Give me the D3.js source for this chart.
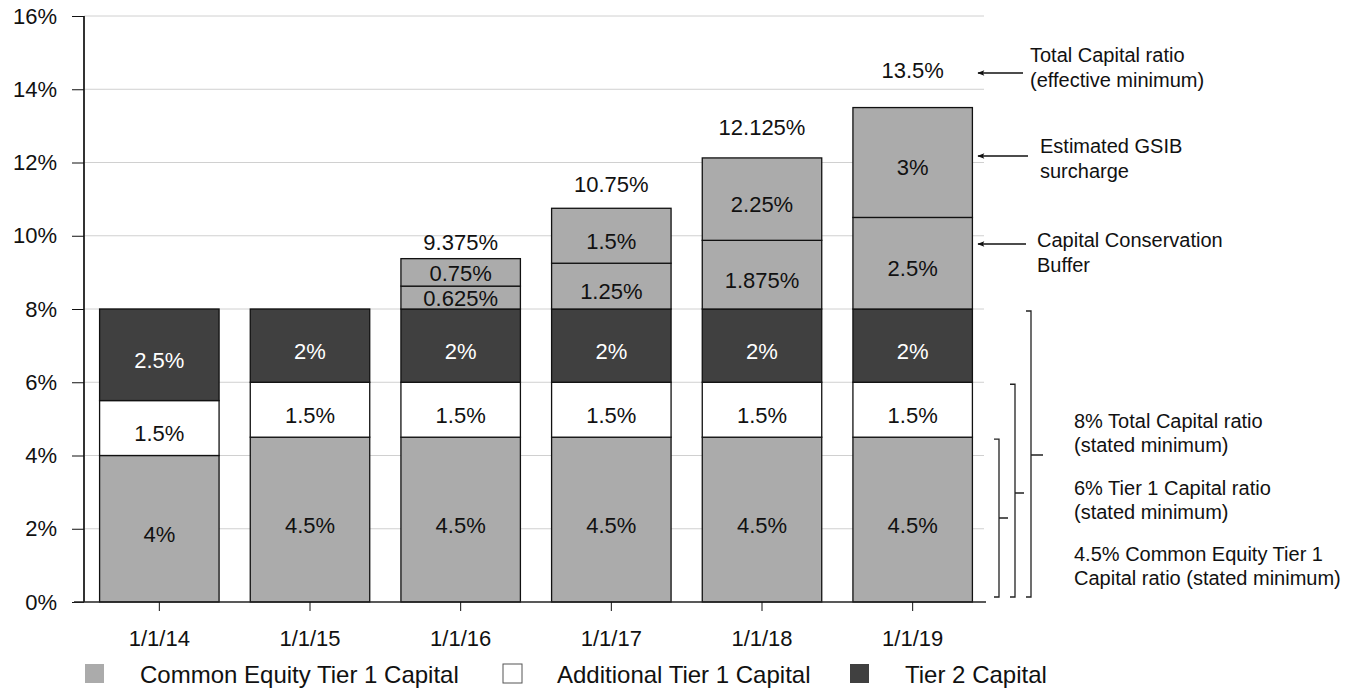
<!DOCTYPE html>
<html>
<head>
<meta charset="utf-8">
<script src="https://cdnjs.cloudflare.com/ajax/libs/d3/7.8.5/d3.min.js"></script>
<style>
  body { margin: 0; background: #fff; }
  svg { font-family: "Liberation Sans", Arial, sans-serif; }
  .grid line { stroke: #d0d0d0; stroke-width: 1; }
</style>
</head>
<body>
<div id="chart"></div>
<script>
// Data
var dates = ["1/1/14", "1/1/15", "1/1/16", "1/1/17", "1/1/18", "1/1/19"];
var cet1 = [4, 4.5, 4.5, 4.5, 4.5, 4.5];
var at1 = [1.5, 1.5, 1.5, 1.5, 1.5, 1.5];
var tier2 = [2.5, 2, 2, 2, 2, 2];
var ccb = [0, 0, 0.625, 1.25, 1.875, 2.5];
var gsib = [0, 0, 0.75, 1.5, 2.25, 3];
var totalLabels = ["", "", "9.375%", "10.75%", "12.125%", "13.5%"];
var yTicks = [0, 2, 4, 6, 8, 10, 12, 14, 16];
var legendNames = ["Common Equity Tier 1 Capital", "Additional Tier 1 Capital", "Tier 2 Capital"];

var width = 1351, height = 693;
var colors = { cet1: "#ababab", at1: "#ffffff", tier2: "#404040", ccb: "#ababab", gsib: "#ababab" };

var svg = d3.select("#chart").append("svg")
    .attr("width", width)
    .attr("height", height);

// Scales
var x = d3.scaleBand().domain(dates).range([84, 988]).paddingInner(0.207).paddingOuter(0.1035);
var y = d3.scaleLinear().domain([0, 16]).range([602, 16]);

// Gridlines
svg.append("g").attr("class", "grid")
    .selectAll("line").data(yTicks.slice(1)).enter()
    .append("line")
    .attr("x1", 84).attr("x2", 984)
    .attr("y1", function(d){ return y(d); })
    .attr("y2", function(d){ return y(d); });

// Stack the series
var keys = ["cet1", "at1", "tier2", "ccb", "gsib"];
var rows = dates.map(function(d, i){
    return { date: d, cet1: cet1[i], at1: at1[i], tier2: tier2[i], ccb: ccb[i], gsib: gsib[i] };
});
var stacked = d3.stack().keys(keys)(rows);

var layers = svg.selectAll("g.layer").data(stacked).enter()
    .append("g").attr("class", "layer");

layers.selectAll("rect").data(function(s){
        return s.map(function(p){ p.key = s.key; return p; }).filter(function(p){ return p[1] - p[0] > 0; });
    }).enter()
    .append("rect")
    .attr("x", function(p){ return x(p.data.date); })
    .attr("width", x.bandwidth())
    .attr("y", function(p){ return y(p[1]); })
    .attr("height", function(p){ return y(p[0]) - y(p[1]); })
    .attr("fill", function(p){ return colors[p.key]; })
    .attr("stroke", "#111")
    .attr("stroke-width", 1.3);

// Segment labels (sit a little below the segment middle)
layers.selectAll("text").data(function(s){
        return s.filter(function(p){ return p[1] - p[0] > 0; });
    }).enter()
    .append("text")
    .attr("x", function(p){ return x(p.data.date) + x.bandwidth() / 2; })
    .attr("y", function(p){
        var h = y(p[0]) - y(p[1]);
        return y((p[0] + p[1]) / 2) + (h > 40 ? 5 : 1);
    })
    .attr("dy", "0.36em")
    .attr("text-anchor", "middle")
    .attr("font-size", 22)
    .attr("fill", function(p){ return p.key === "tier2" ? "#fff" : "#111"; })
    .text(function(p){ return +(p[1] - p[0]).toFixed(3) + "%"; });

// Total labels above bars
var totals = rows.map(function(r){ return r.cet1 + r.at1 + r.tier2 + r.ccb + r.gsib; });
svg.append("g").selectAll("text").data(dates).enter()
    .append("text")
    .attr("x", function(d){ return x(d) + x.bandwidth() / 2; })
    .attr("y", function(d, i){ return y(totals[i]) - 9 - Math.max(0, i - 2) * 7; })
    .attr("text-anchor", "middle")
    .attr("font-size", 22)
    .attr("fill", "#111")
    .text(function(d, i){ return totalLabels[i]; });

// Axes
var yAxis = d3.axisLeft(y).tickValues(yTicks).tickFormat(function(d){ return d + "%"; })
    .tickSize(12).tickPadding(15);
var gy = svg.append("g").attr("transform", "translate(84,0)").call(yAxis);
gy.select(".domain").attr("stroke", "#333").attr("stroke-width", 2).attr("d", "M0," + y(16) + "V" + y(0));
gy.selectAll(".tick line").attr("stroke", "#111");
gy.selectAll("text").attr("font-size", 22).attr("fill", "#111").attr("font-family", "Liberation Sans, Arial, sans-serif");

var xAxis = d3.axisBottom(x).tickSize(9).tickPadding(19);
var gx = svg.append("g").attr("transform", "translate(0,602)").call(xAxis);
gx.select(".domain").attr("stroke", "#222").attr("stroke-width", 1.5).attr("d", "M74,0H986");
gx.selectAll(".tick line").attr("stroke", "#111");
gx.selectAll("text").attr("font-size", 22).attr("fill", "#111").attr("font-family", "Liberation Sans, Arial, sans-serif");

// Legend
var legendX = [85, 503, 850];
var legendFill = [colors.cet1, colors.at1, colors.tier2];
var legend = svg.append("g").selectAll("g").data(legendNames).enter()
    .append("g")
    .attr("transform", function(d, i){ return "translate(" + legendX[i] + ",664)"; });
legend.append("rect")
    .attr("width", 19).attr("height", 19)
    .attr("fill", function(d, i){ return legendFill[i]; })
    .attr("stroke", function(d, i){ return i === 1 ? "#555" : "none"; });
legend.append("text")
    .attr("x", function(d, i){ return i === 1 ? 54 : 55; }).attr("y", 10).attr("dy", "0.36em")
    .attr("font-size", 24).attr("fill", "#111")
    .text(function(d){ return d; });

// Right side annotations
svg.append("defs").append("marker")
    .attr("id", "arrow").attr("viewBox", "0 0 10 10")
    .attr("refX", 9).attr("refY", 5)
    .attr("markerUnits", "userSpaceOnUse")
    .attr("markerWidth", 9).attr("markerHeight", 7)
    .attr("orient", "auto")
    .append("path").attr("d", "M0,1L10,5L0,9L2,5Z").attr("fill", "#111");

var notes = [
    { lines: ["Total Capital ratio", "(effective minimum)"], tx: 1030, ty: 55, ay: 73, ax1: 1023 },
    { lines: ["Estimated GSIB", "surcharge"], tx: 1040, ty: 146, ay: 156, ax1: 1028 },
    { lines: ["Capital Conservation", "Buffer"], tx: 1037, ty: 240, ay: 244, ax1: 1026 }
];
notes.forEach(function(n){
    svg.append("line")
        .attr("x1", n.ax1).attr("x2", 978)
        .attr("y1", n.ay).attr("y2", n.ay)
        .attr("stroke", "#111").attr("stroke-width", 1.5)
        .attr("marker-end", "url(#arrow)");
    var t = svg.append("text").attr("x", n.tx).attr("y", n.ty)
        .attr("font-size", 20).attr("fill", "#111");
    n.lines.forEach(function(l, k){
        t.append("tspan").attr("x", n.tx).attr("dy", k === 0 ? "0.36em" : 25).text(l);
    });
});

// Brackets for stated minimums
var brackets = [
    { x: 1031, top: 8, mid: 455, tick: 12 },
    { x: 1015, top: 6, mid: 493, tick: 9 },
    { x: 999, top: 4.5, mid: 518, tick: 9 }
];
brackets.forEach(function(b){
    var yt = y(b.top) + 2, yb = 597;
    svg.append("path")
        .attr("d", "M" + (b.x - 5) + "," + yt + "H" + b.x + "V" + yb + "H" + (b.x - 5)
            + "M" + b.x + "," + b.mid + "H" + (b.x + b.tick))
        .attr("fill", "none").attr("stroke", "#222").attr("stroke-width", 1.3);
});

var bracketText = [
    { lines: ["8% Total Capital ratio", "(stated minimum)"], y: 421 },
    { lines: ["6% Tier 1 Capital ratio", "(stated minimum)"], y: 488 },
    { lines: ["4.5% Common Equity Tier 1", "Capital ratio (stated minimum)"], y: 554 }
];
bracketText.forEach(function(b){
    var t = svg.append("text").attr("x", 1074).attr("y", b.y)
        .attr("font-size", 20).attr("fill", "#111");
    b.lines.forEach(function(l, k){
        t.append("tspan").attr("x", 1074).attr("dy", k === 0 ? "0.36em" : 24).text(l);
    });
});
</script>
</body>
</html>
